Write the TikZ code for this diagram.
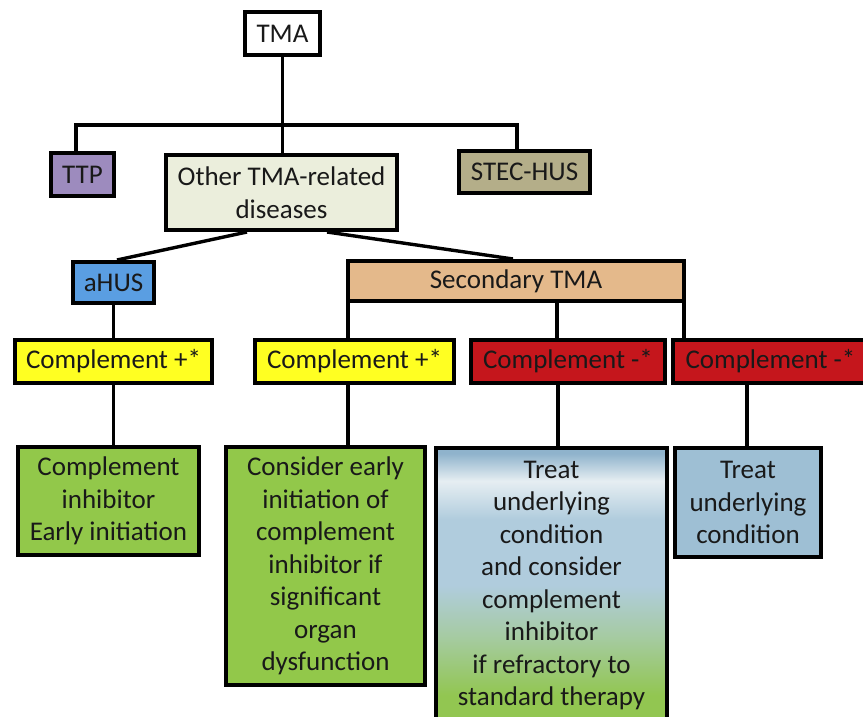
\documentclass[tikz,border=0pt]{standalone}
\usepackage{fontspec}
\setmainfont{Carlito}
\usetikzlibrary{positioning}
\definecolor{ttpc}{HTML}{9D8BBE}
\definecolor{othc}{HTML}{EBEEDC}
\definecolor{stecc}{HTML}{B4AE89}
\definecolor{ahusc}{HTML}{5A9EE2}
\definecolor{secc}{HTML}{E4B98B}
\definecolor{yelc}{HTML}{FFFF22}
\definecolor{redc}{HTML}{C5161C}
\definecolor{grnc}{HTML}{92C84A}
\definecolor{bluc}{HTML}{9EBFD4}
\definecolor{shtop}{HTML}{8FB3CC}
\definecolor{shwhite}{HTML}{E6EEF2}
\definecolor{shblue}{HTML}{B0CCDD}
\definecolor{shmix}{HTML}{A6CBA4}
\definecolor{shgreen}{HTML}{92C651}
\pgfdeclareverticalshading{treatshade}{100bp}{color(0bp)=(shgreen); color(30bp)=(shgreen);
  color(41bp)=(shmix); color(50bp)=(shblue); color(62bp)=(shblue); color(69bp)=(shwhite);
  color(74bp)=(shtop); color(100bp)=(shtop)}

\begin{document}
\begin{tikzpicture}[x=1pt, y=-1pt, font=\fontsize{27}{32.5}\selectfont, text=black!90,
  box/.style={draw=black, line width=4pt, fill=#1, align=center, inner sep=0pt}, box/.default=white,
  link/.style={line width=3.4pt, black}]
\useasboundingbox (0,0) rectangle (863,717);
\clip (0,0) rectangle (863,717);
% top level
\node[box, minimum width=75pt, minimum height=43pt] (tma) at (282.5,33.5) {TMA};
\node[box=ttpc, minimum width=63pt, minimum height=43pt] (ttp) at (82.5,174.5) {TTP};
\node[box=othc, minimum width=231pt, minimum height=75pt] (other) at (281.5,192.5) {Other TMA-related\\diseases};
\node[box=stecc, minimum width=131pt, minimum height=42pt] (stec) at (524.5,172) {STEC-HUS};
% second level
\node[box=ahusc, minimum width=81pt, minimum height=41pt] (ahus) at (113.5,282.5) {aHUS};
\node[box=secc, minimum width=336pt, minimum height=40pt] (sec) at (516,281) {Secondary TMA};
% complement status
\node[box=yelc, minimum width=197pt, minimum height=43pt] (cpos1) at (113.5,361.5) {Complement +*};
\node[box=yelc, minimum width=199pt, minimum height=43pt] (cpos2) at (354.5,361.5) {Complement +*};
\node[box=redc, minimum width=194pt, minimum height=43pt] (cneg1) at (568,361.5) {Complement -*};
\node[box=redc, minimum width=195pt, minimum height=43pt] (cneg2) at (770.5,361.5) {Complement -*};
% treatment
\node[box=grnc, minimum width=181pt, minimum height=108pt] (inhib) at (108.5,501) {Complement\\inhibitor\\Early initiation};
\node[box=grnc, minimum width=199pt, minimum height=238pt] (early) at (325.5,566) {Consider early\\initiation of\\complement\\inhibitor if\\significant\\organ\\dysfunction};
\node[box, shading=treatshade, minimum width=231pt, minimum height=275pt] (refr) at (551.5,585.5) {Treat\\underlying\\condition\\and consider\\complement\\inhibitor\\if refractory to\\standard therapy};
\node[box=bluc, minimum width=146pt, minimum height=109pt] (under) at (748,502.5) {Treat\\underlying\\condition};
% connectors
\coordinate (bar) at (0,125);
\draw[link] (tma.south) -- (tma.south |- other.north);
\draw[link] ([xshift=-6.5pt]ttp.north) |- (tma |- bar) -| ([xshift=-7.5pt]stec.north);
\draw[link] ([xshift=-34.5pt]other.south) -- ([xshift=3.5pt]ahus.north);
\draw[link] ([xshift=45.5pt]other.south) -- ([xshift=-3pt]sec.north);
\draw[link] (ahus.south) -- (ahus.south |- cpos1.north);
\draw[link] ([xshift=2pt]sec.south west) -- ([xshift=2pt]sec.south west |- cpos2.north);
\draw[link] ([xshift=41pt]sec.south) -- ([xshift=41pt]sec.south |- cneg1.north);
\draw[link] ([xshift=-2pt]sec.south east) -- ([xshift=-2pt]sec.south east |- cneg2.north);
\draw[link] (cpos1.south) -- (cpos1.south |- inhib.north);
\draw[link] ([xshift=-6.5pt]cpos2.south) -- ([xshift=-6.5pt]cpos2.south |- early.north);
\draw[link] ([xshift=-10pt]cneg1.south) -- ([xshift=-10pt]cneg1.south |- refr.north);
\draw[link] ([xshift=-23.5pt]cneg2.south) -- ([xshift=-23.5pt]cneg2.south |- under.north);
\end{tikzpicture}
\end{document}
